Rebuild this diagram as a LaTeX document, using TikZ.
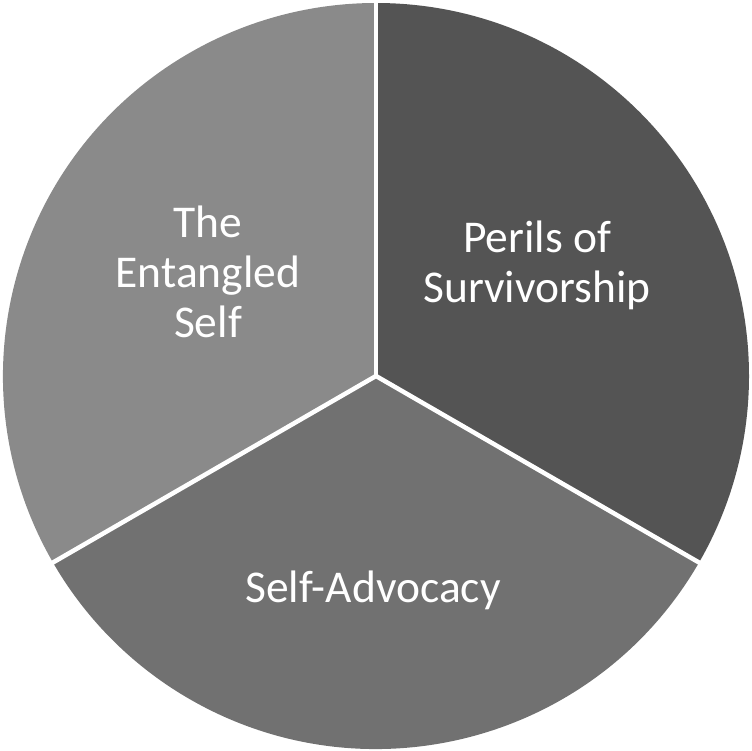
\documentclass[tikz,border=0pt]{standalone}
\usepackage{fontspec}
\setmainfont{Carlito}
\begin{document}
\begin{tikzpicture}[x=1pt,y=1pt,
  lbl/.style={text=white,font=\fontsize{45.5}{50}\selectfont,align=center,inner sep=0pt}]
\useasboundingbox (0,0) rectangle (752,750);
\coordinate (c) at (376,374);
\fill[color={rgb,255:red,84;green,84;blue,84}] (c) -- ++(90:373) arc[start angle=90,end angle=-30,radius=373] -- cycle;
\fill[color={rgb,255:red,113;green,113;blue,113}] (c) -- ++(-30:373) arc[start angle=-30,end angle=-150,radius=373] -- cycle;
\fill[color={rgb,255:red,138;green,138;blue,138}] (c) -- ++(210:373) arc[start angle=210,end angle=90,radius=373] -- cycle;
\draw[white,line width=4.5pt] (c) -- ++(90:376);
\draw[white,line width=4.5pt] (c) -- ++(-30:376);
\draw[white,line width=4.5pt] (c) -- ++(210:376);
\node[lbl] (a) at (208,478) {The\\Entangled\\Self};
\node[lbl] (b) at (537,485) {Perils of\\Survivorship};
\node[lbl] (d) at (373,160) {Self-Advocacy};
\end{tikzpicture}
\end{document}
